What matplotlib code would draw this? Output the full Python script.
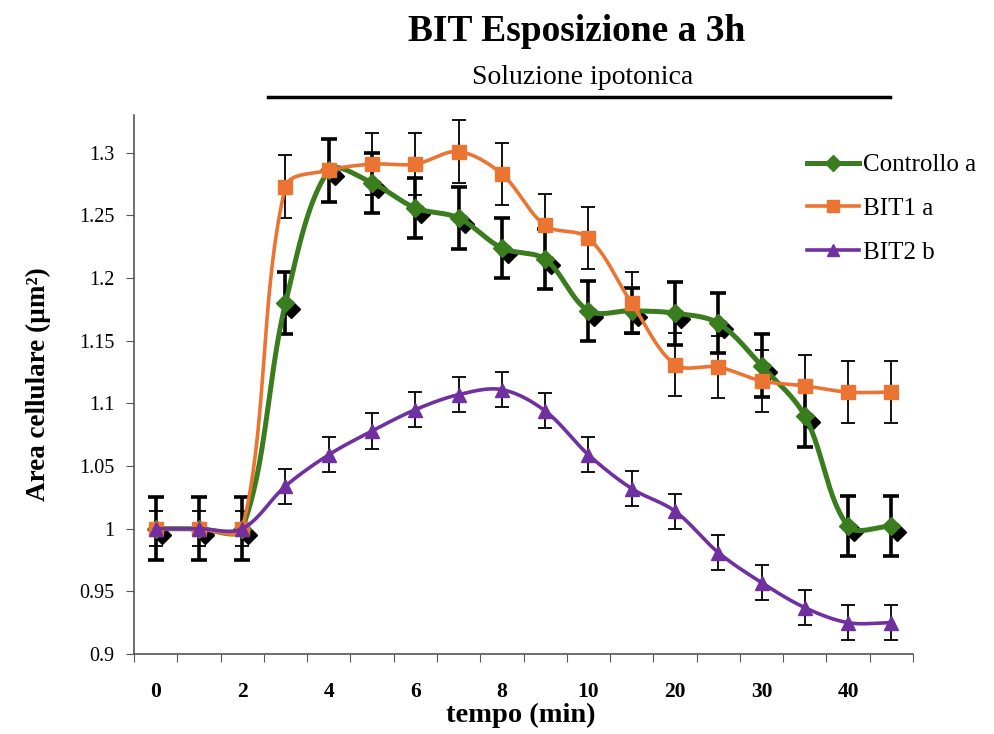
import numpy as np
import matplotlib
matplotlib.use("Agg")
from matplotlib import pyplot as plt
from matplotlib.lines import Line2D
from matplotlib.transforms import offset_copy

plt.rcParams['font.family'] = ['Liberation Serif', 'DejaVu Serif']

# categorie sull'asse x (18 punti, etichetta ogni due)
tick_labels = ['0', '2', '4', '6', '8', '10', '20', '30', '40']

controllo = [1.0, 1.0, 1.0, 1.180, 1.286, 1.276, 1.256, 1.248, 1.224, 1.215,
             1.174, 1.174, 1.172, 1.164, 1.130, 1.090, 1.002, 1.002]
controllo_err = [0.025, 0.025, 0.025, 0.025, 0.025, 0.024, 0.024, 0.025, 0.024, 0.024,
                 0.024, 0.018, 0.025, 0.024, 0.025, 0.025, 0.024, 0.024]

bit1 = [1.0, 1.0, 1.0, 1.273, 1.286, 1.291, 1.291, 1.301, 1.283, 1.242,
        1.232, 1.180, 1.131, 1.129, 1.118, 1.114, 1.109, 1.109]
bit1_err = [0.025] * 18

bit2 = [1.0, 1.0, 1.0, 1.034, 1.059, 1.078, 1.095, 1.107, 1.111, 1.094,
        1.059, 1.032, 1.014, 0.981, 0.957, 0.937, 0.925, 0.925]
bit2_err = [0.014] * 18

GREEN = '#3a7d1e'
ORANGE = '#ec7432'
PURPLE = '#7030a0'


def smooth(ax, y, n=40):
    # linea smussata tipo Excel: Bezier con tangenti pesate sulla lunghezza dei tratti (in pixel)
    x = np.arange(len(y), dtype=float)
    pts = ax.transData.transform(np.column_stack([x, np.asarray(y, float)]))
    m = len(pts)
    d = np.hypot(*np.diff(pts, axis=0).T)
    out = []
    for i in range(m - 1):
        p1, p2 = pts[i], pts[i + 1]
        if i > 0:
            w = d[i] / (d[i - 1] + d[i])
            b1 = p1 + (p2 - pts[i - 1]) * w / 3
        else:
            b1 = p1 + (p2 - p1) / 3
        if i + 2 < m:
            w = d[i] / (d[i] + d[i + 1])
            b2 = p2 - (pts[i + 2] - p1) * w / 3
        else:
            b2 = p2 - (p2 - p1) / 3
        t = np.linspace(0, 1, n)[:, None]
        seg = ((1 - t) ** 3) * p1 + 3 * ((1 - t) ** 2) * t * b1 + 3 * (1 - t) * t ** 2 * b2 + t ** 3 * p2
        out.append(seg if i == 0 else seg[1:])
    c = ax.transData.inverted().transform(np.vstack(out))
    return c[:, 0], c[:, 1]


fig = plt.figure(figsize=(9.95, 7.34), dpi=100)
ax = fig.add_axes([0.1347, 0.109, 0.7829, 0.734])
ax.set_xlim(-0.5, 17.5)
ax.set_ylim(0.9, 1.33)

xs = np.arange(len(controllo))

# error bars
ax.errorbar(xs, bit1, yerr=bit1_err, fmt='none', ecolor='black', elinewidth=1.3,
            capsize=5, capthick=1.3, zorder=2)
ax.errorbar(xs, bit2, yerr=bit2_err, fmt='none', ecolor='black', elinewidth=1.3,
            capsize=5, capthick=1.3, zorder=2)
ax.errorbar(xs, controllo, yerr=controllo_err, fmt='none', ecolor='black', elinewidth=2.6,
            capsize=5.5, capthick=2.6, zorder=2)

# ombra nera dei rombi
shadow = offset_copy(ax.transData, fig=fig, x=4.3, y=-4.3, units='points')
ax.plot(xs, controllo, 'D', color='black', ms=9, transform=shadow, zorder=3)

sx, sy = smooth(ax, controllo)
ax.plot(sx, sy, color=GREEN, lw=3.6, zorder=4)
ax.plot(xs, controllo, 'D', color=GREEN, ms=9.5, zorder=4)

sx, sy = smooth(ax, bit1)
ax.plot(sx, sy, color=ORANGE, lw=2.6, zorder=5)
ax.plot(xs, bit1, 's', color=ORANGE, ms=10, zorder=5)

sx, sy = smooth(ax, bit2)
ax.plot(sx, sy, color=PURPLE, lw=2.6, zorder=6)
ax.plot(xs, bit2, '^', color=PURPLE, ms=10, zorder=6)

ax.set_xlim(-0.5, 17.5)
ax.set_ylim(0.9, 1.33)
ax.set_xticks(np.arange(-0.5, 18, 1))
ax.set_xticklabels([])
ax.set_xticks(np.arange(0, 18, 2), minor=True)
ax.set_xticklabels(tick_labels, minor=True, fontsize=15.5, fontweight='bold')
ax.tick_params(axis='x', which='minor', length=0, pad=20)
ax.tick_params(axis='x', which='major', length=6, direction='out', color='#555555')
yt = np.arange(0.9, 1.301, 0.05)
ax.set_yticks(yt)
ax.set_yticklabels(['%g' % round(v, 2) for v in yt], fontsize=14.5)
ax.tick_params(axis='y', length=6, direction='out', color='#555555', pad=8)

for s in ['top', 'right']:
    ax.spines[s].set_visible(False)
for s in ['left', 'bottom']:
    ax.spines[s].set_color('#555555')
    ax.spines[s].set_linewidth(1.2)

fig.text(0.523, 1 - 715 / 734, 'tempo (min)', fontsize=20.5, fontweight='bold',
         ha='center', va='center')
ax.set_ylabel('Area cellulare (µm²)', fontsize=19.5, fontweight='bold', labelpad=20)

fig.text(0.58, 0.957, 'BIT Esposizione a 3h', fontsize=27, fontweight='bold',
         ha='center', va='center')
fig.text(0.586, 0.895, 'Soluzione ipotonica', fontsize=20, ha='center', va='center')
fig.add_artist(Line2D([268 / 995, 890 / 995], [1 - 97 / 734, 1 - 97 / 734],
                      color='black', lw=2.5))

handles = [
    Line2D([], [], color=GREEN, lw=3.6, marker='D', ms=8),
    Line2D([], [], color=ORANGE, lw=2.6, marker='s', ms=9),
    Line2D([], [], color=PURPLE, lw=2.6, marker='^', ms=9),
]
ax.legend(handles, ['Controllo a', 'BIT1 a', 'BIT2 b'], loc='upper right',
          bbox_to_anchor=(1.11, 0.97), frameon=False, fontsize=18,
          handlelength=2.1, handletextpad=0.15, labelspacing=0.85)

fig.savefig('out.png', dpi=100)
